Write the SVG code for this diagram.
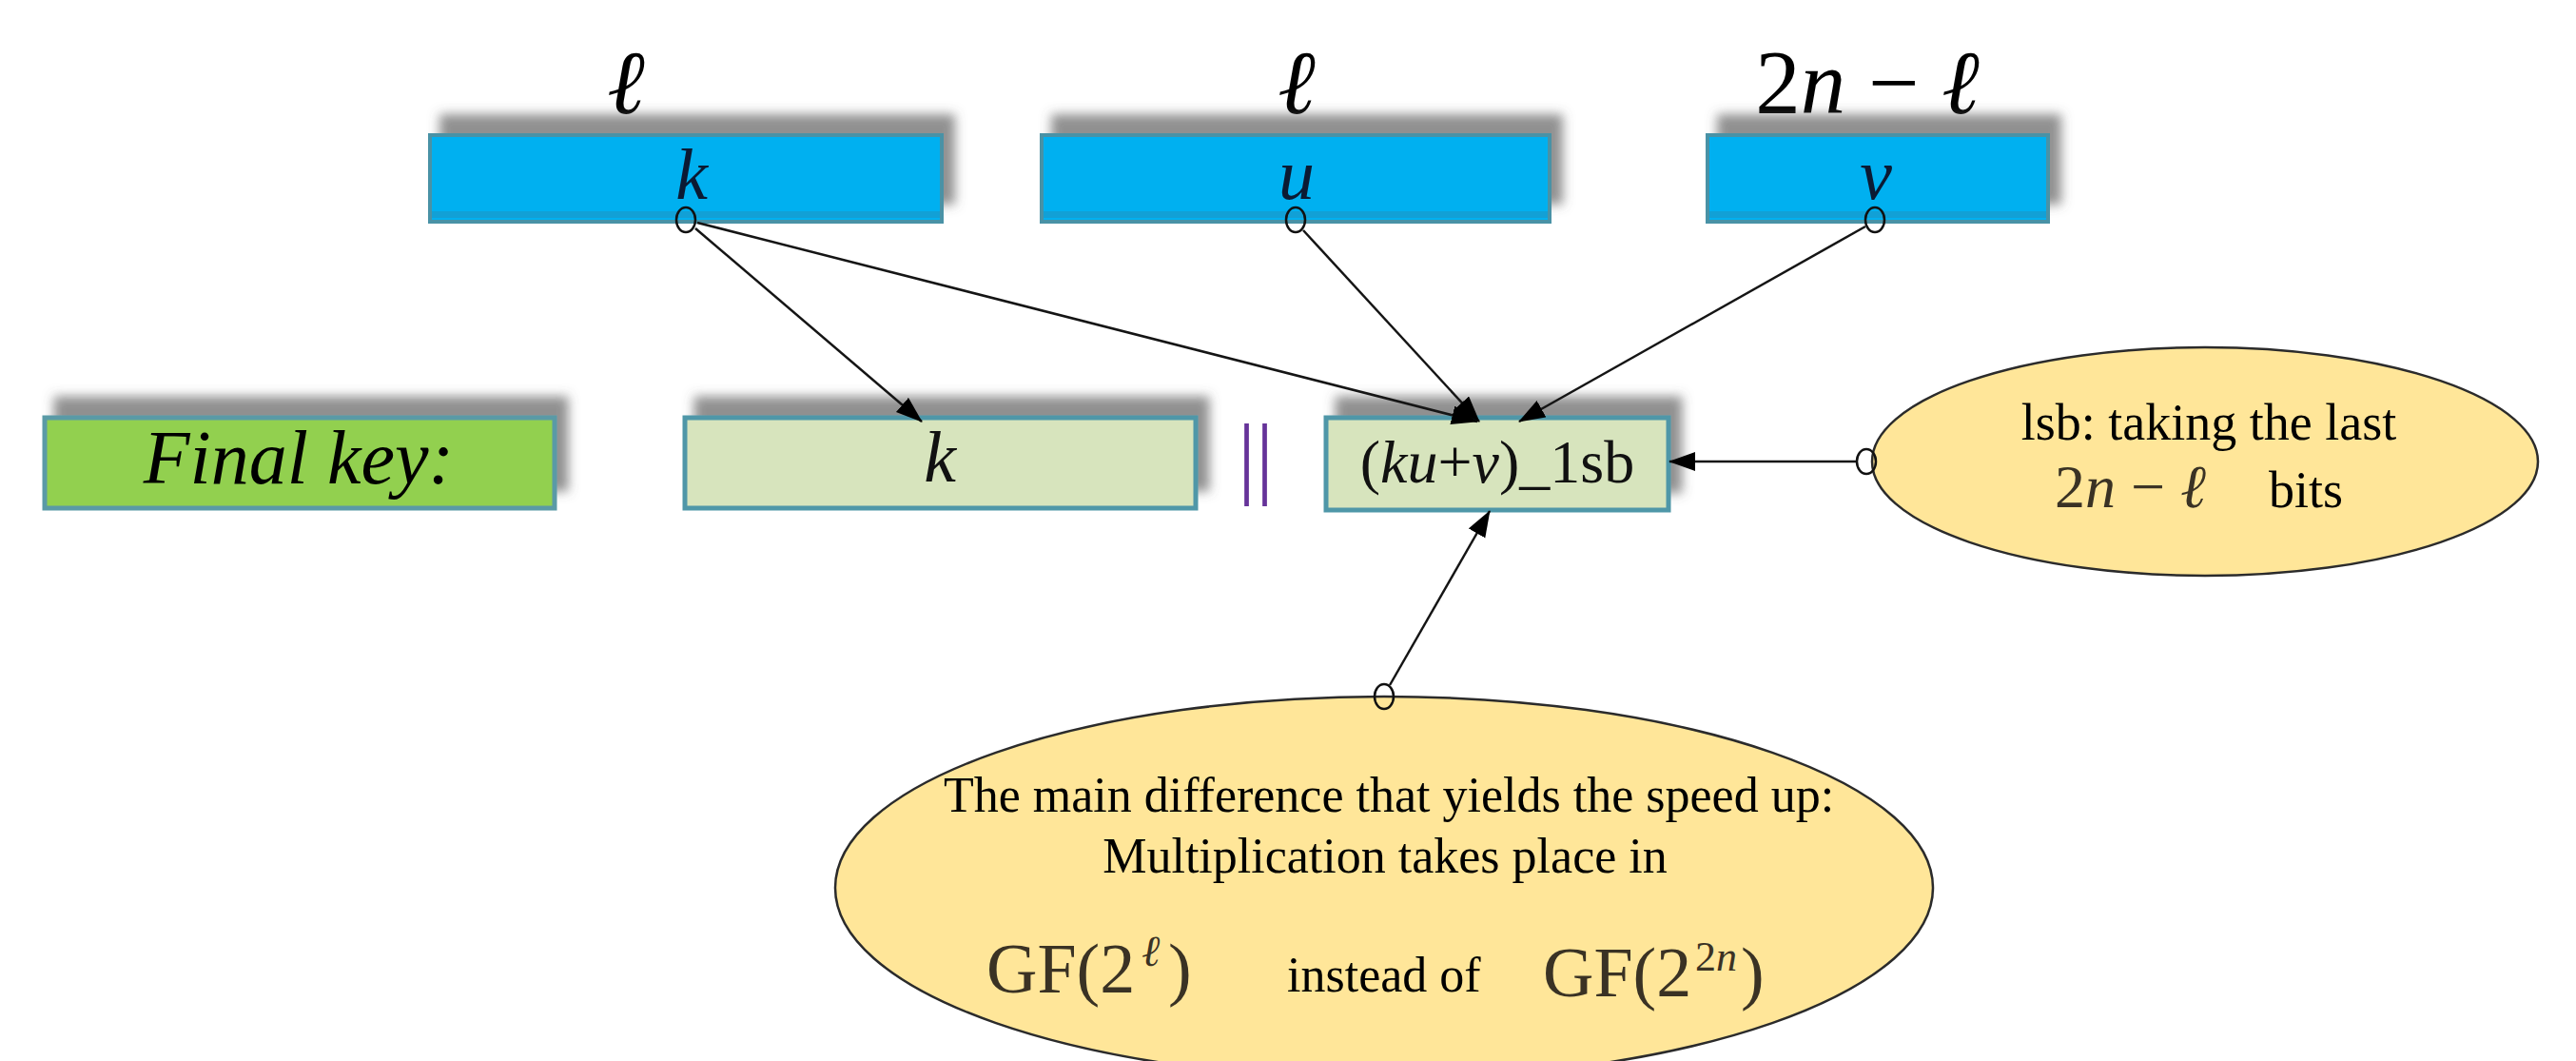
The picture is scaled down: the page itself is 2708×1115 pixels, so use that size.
<svg xmlns="http://www.w3.org/2000/svg" width="2708" height="1115" viewBox="0 0 2708 1115">
<style>
.blue{fill:#00B0F0;stroke:#4892a6;stroke-width:4}
.pale{fill:#D7E4BD;stroke:#4f97a8;stroke-width:5}
.green{fill:#92D050;stroke:#5a9aa6;stroke-width:5}
.note{fill:#FFE699;stroke:#2b2b2b;stroke-width:2.5}
.serif{font-family:"Liberation Serif","Times New Roman",serif}
.it{font-style:italic}
.math{fill:#3a3224}
.conn{stroke:#151515;stroke-width:2.5;fill:none}
.dot{fill:none;stroke:#111;stroke-width:2.5}
</style>
<defs>
<filter id="sh" x="-10%" y="-60%" width="130%" height="180%">
<feDropShadow dx="12" dy="-20" stdDeviation="6" flood-color="#555" flood-opacity="0.65"/>
</filter>
<marker id="ah" markerUnits="userSpaceOnUse" markerWidth="28" markerHeight="22" refX="27" refY="10" orient="auto">
<path d="M0,0 L28,10 L0,20 z" fill="#000"/>
</marker>
</defs>
<rect width="2708" height="1115" fill="#fff"/>

<g id="labels-top" class="serif">
<text x="658" y="119" font-size="95" text-anchor="middle" class="it">ℓ</text>
<text x="1363" y="119" font-size="95" text-anchor="middle" class="it">ℓ</text>
<text x="1963" y="119" font-size="95" text-anchor="middle">2<tspan class="it">n</tspan> − <tspan class="it">ℓ</tspan></text>
</g>

<g id="box-k">
<rect x="452" y="142" width="538" height="91" class="blue" filter="url(#sh)"/>
<rect x="454" y="222" width="534" height="7" fill="#12a0d6"/>
<text x="727" y="209" font-size="76" text-anchor="middle" class="serif it" fill="#0b1a33">k</text>
</g>
<g id="box-u">
<rect x="1095" y="142" width="534" height="91" class="blue" filter="url(#sh)"/>
<rect x="1097" y="222" width="530" height="7" fill="#12a0d6"/>
<text x="1363" y="209" font-size="76" text-anchor="middle" class="serif it" fill="#0b1a33">u</text>
</g>
<g id="box-v">
<rect x="1795" y="142" width="358" height="91" class="blue" filter="url(#sh)"/>
<rect x="1797" y="222" width="354" height="7" fill="#12a0d6"/>
<text x="1972" y="209" font-size="76" text-anchor="middle" class="serif it" fill="#0b1a33">v</text>
</g>

<g id="final-key">
<rect x="47" y="439" width="536" height="95" class="green" filter="url(#sh)"/>
<text x="314" y="508" font-size="80" text-anchor="middle" class="serif it" fill="#000">Final key:</text>
</g>
<g id="box-k2">
<rect x="720" y="439" width="537" height="95" class="pale" filter="url(#sh)"/>
<text x="988" y="506" font-size="76" text-anchor="middle" class="serif it" fill="#111">k</text>
</g>
<g id="concat">
<text x="1301" y="512" font-size="95" class="serif" fill="#663399">||</text>
</g>
<g id="box-lsb">
<rect x="1394" y="439" width="360" height="97" class="pale" filter="url(#sh)"/>
<text x="1574" y="507" font-size="64" text-anchor="middle" class="serif" fill="#111">(<tspan class="it">ku</tspan>+<tspan class="it">v</tspan>)_1sb</text>
</g>

<g id="note-lsb">
<ellipse cx="2318" cy="485" rx="350" ry="120" class="note"/>
<text x="2322" y="462" font-size="54" text-anchor="middle" class="serif" fill="#000">lsb: taking the last</text>
<text x="2160" y="533" font-size="64" class="serif math">2<tspan class="it">n</tspan> − <tspan class="it">ℓ</tspan></text>
<text x="2385" y="533" font-size="54" class="serif" fill="#000">bits</text>
</g>

<g id="note-speed">
<ellipse cx="1455" cy="933" rx="577" ry="201" class="note"/>
<text x="1460" y="853" font-size="52" text-anchor="middle" class="serif" fill="#000">The main difference that yields the speed up:</text>
<text x="1456" y="917" font-size="52" text-anchor="middle" class="serif" fill="#000">Multiplication takes place in</text>
<text x="1037" y="1043" font-size="74" class="serif math">GF(2<tspan x="1200" y="1015" font-size="46" class="it">ℓ</tspan><tspan x="1228" y="1043">)</tspan></text>
<text x="1353" y="1042" font-size="52" class="serif" fill="#000">instead of</text>
<text x="1622" y="1047" font-size="74" class="serif math">GF(2<tspan x="1782" y="1020" font-size="44">2<tspan class="it">n</tspan></tspan><tspan x="1830" y="1047">)</tspan></text>
</g>

<g id="connectors">
<line x1="731" y1="240" x2="969" y2="443" class="conn" marker-end="url(#ah)"/>
<line x1="733" y1="234" x2="1553" y2="443" class="conn" marker-end="url(#ah)"/>
<line x1="1370" y1="242" x2="1555" y2="443" class="conn" marker-end="url(#ah)"/>
<line x1="1961" y1="238" x2="1597" y2="443" class="conn" marker-end="url(#ah)"/>
<line x1="1951" y1="485" x2="1755" y2="485" class="conn" stroke-width="4" marker-end="url(#ah)"/>
<line x1="1461" y1="720" x2="1566" y2="537" class="conn" marker-end="url(#ah)"/>
<ellipse cx="721" cy="231" rx="10" ry="13" class="dot"/>
<ellipse cx="1362" cy="231" rx="10" ry="13" class="dot"/>
<ellipse cx="1971" cy="231" rx="10" ry="13" class="dot"/>
<ellipse cx="1962" cy="485" rx="10" ry="13" class="dot"/>
<ellipse cx="1455" cy="732" rx="10" ry="13" class="dot"/>
</g>
</svg>
